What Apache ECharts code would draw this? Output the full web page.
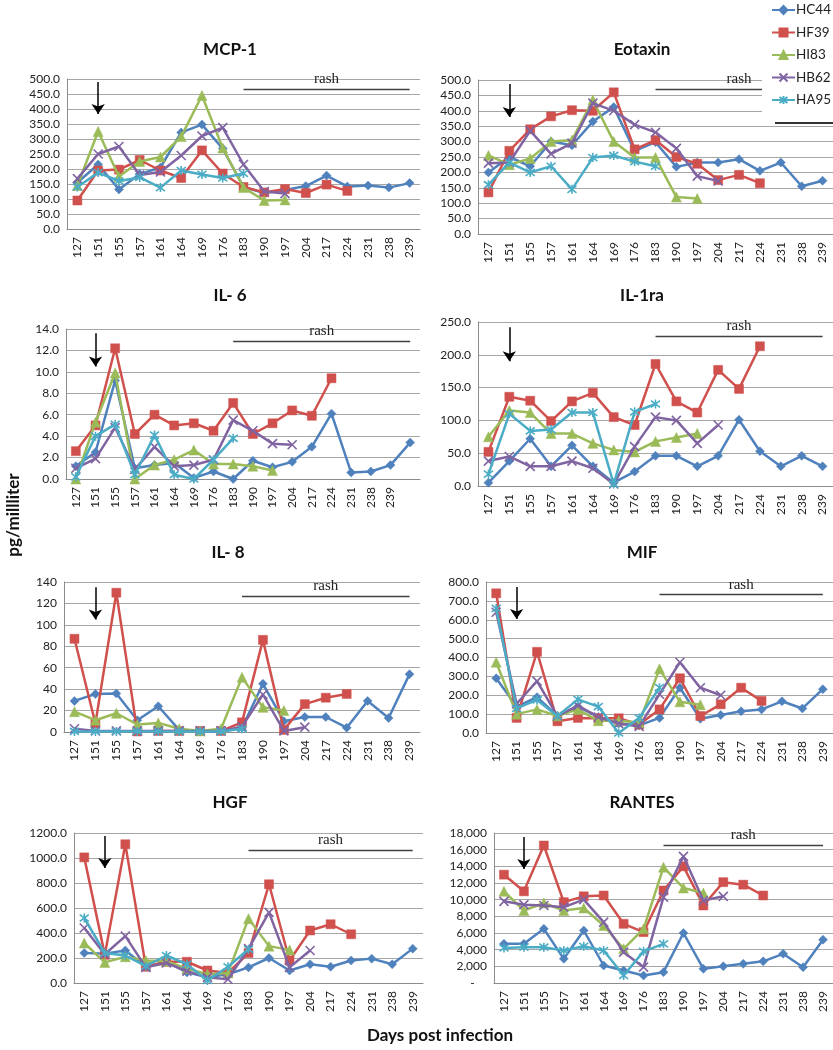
<!DOCTYPE html>
<html><head><meta charset="utf-8">
<script src="https://cdn.jsdelivr.net/npm/echarts@6/dist/echarts.min.js"></script>
<style>html,body{margin:0;padding:0;background:#fff}#c{width:833px;height:1050px}</style>
</head><body><div id="c"></div>
<script>
// ---------- DATA ----------
const categories = ['127','151','155','157','161','164','169','176','183','190','197','204','217','224','231','238','239'];
const categoriesIL6 = categories.concat(['']);
const seriesNames = ['HC44','HF39','HI83','HB62','HA95'];

const mcp1HC44 = [155,215,132,183,205,322,348,268,140,120,130,143,178,142,145,138,153];
const mcp1HF39 = [95,195,198,230,195,170,262,185,140,122,133,120,148,127];
const mcp1HI83 = [145,325,175,225,240,308,445,270,138,95,97];
const mcp1HB62 = [168,250,275,180,190,245,310,338,215,125,118];
const mcp1HA95 = [140,188,160,172,138,195,182,170,185];

const eotHC44 = [200,250,220,300,288,365,412,270,298,218,232,232,243,205,232,155,173];
const eotHF39 = [135,270,340,382,402,400,460,275,305,250,228,175,192,165];
const eotHI83 = [255,225,245,300,305,435,300,248,248,120,115];
const eotHB62 = [230,232,335,260,295,425,400,355,330,278,188,172];
const eotHA95 = [160,232,200,220,145,248,255,235,220];

const il6HC44 = [1.2,2.5,9.2,1.0,1.3,1.5,0.1,0.7,0.0,1.7,1.1,1.6,3.0,6.1,0.6,0.7,1.3,3.4];
const il6HF39 = [2.6,5.0,12.2,4.2,6.0,5.0,5.2,4.5,7.1,4.2,5.2,6.4,5.9,9.4];
const il6HI83 = [0.0,5.3,9.9,0.0,1.3,1.8,2.7,1.4,1.4,1.2,0.8];
const il6HB62 = [1.0,1.9,4.8,0.9,3.0,1.2,1.3,1.8,5.5,4.5,3.3,3.2];
const il6HA95 = [0.2,4.0,5.1,0.4,4.1,0.4,0.0,1.8,3.8];

const il1raHC44 = [5,38,72,30,62,30,5,22,46,46,30,46,101,53,30,46,30];
const il1raHF39 = [52,136,130,99,129,142,105,93,186,129,112,177,148,213];
const il1raHI83 = [75,115,112,80,80,65,55,52,68,74,80];
const il1raHB62 = [38,45,30,30,38,27,3,60,105,100,65,93];
const il1raHA95 = [18,110,84,86,112,112,3,113,125];

const il8HC44 = [29,35.5,36,11,24,2,0.5,0.5,4,45,10,14,14,4,29,13,54];
const il8HF39 = [87,8,130,0.5,1,1,1,1,9,86,2,26,32,35.5];
const il8HI83 = [19,11,17.5,7,8.5,3,1,3,51,23,20];
const il8HB62 = [3,1,1,1,1,1,1,1,5,35,1,4.5];
const il8HA95 = [0.5,0.5,0.5,0.5,0.5,0.5,0.5,0.5,3];

const mifHC44 = [290,140,190,90,140,85,50,40,80,240,75,95,115,125,168,130,232];
const mifHF39 = [740,80,430,62,80,78,78,45,125,290,90,152,240,170];
const mifHI83 = [375,100,125,90,125,65,65,55,340,165,150];
const mifHB62 = [640,155,275,90,145,85,50,35,205,375,240,200];
const mifHA95 = [660,130,175,90,178,140,0,80,240];

const hgfHC44 = [240,235,260,130,170,85,45,70,125,200,100,150,130,180,195,150,275];
const hgfHF39 = [1005,225,1110,130,170,170,100,80,240,790,180,420,470,390];
const hgfHI83 = [320,165,210,180,175,115,70,80,515,295,265];
const hgfHB62 = [440,230,375,125,160,95,45,30,275,565,125,260];
const hgfHA95 = [520,240,220,135,220,150,20,130,270];

const rantesHC44 = [4700,4700,6500,2900,6300,2100,1500,900,1300,6000,1700,2000,2300,2600,3500,1900,5200];
const rantesHF39 = [13000,11000,16500,9700,10400,10500,7100,6100,11100,14000,9300,12100,11800,10500];
const rantesHI83 = [11000,8700,9600,8700,9000,6900,4100,6500,13900,11400,10800];
const rantesHB62 = [9800,9400,9300,9100,10000,7300,3700,1900,10300,15200,9900,10400];
const rantesHA95 = [4200,4300,4300,3900,4400,3900,900,3800,4700];

// ---------- PANEL SETUP ----------
const panels = [
  {title:'MCP-1', cats:categories, data:[mcp1HC44,mcp1HF39,mcp1HI83,mcp1HB62,mcp1HA95], max:500, interval:50, fmt:'dec',
   grid:{left:67,top:79,width:353,height:150}, tx:230, ty:50, arrow:[490,383], rash:467, rashEnd:'239'},
  {title:'Eotaxin', cats:categories, data:[eotHC44,eotHF39,eotHI83,eotHB62,eotHA95], max:500, interval:50, fmt:'dec',
   grid:{left:478,top:80,width:355,height:154}, tx:642, ty:50, arrow:[487,380], rash:471, rashEnd:'239'},
  {title:'IL- 6', cats:categoriesIL6, data:[il6HC44,il6HF39,il6HI83,il6HB62,il6HA95], max:14, interval:2, fmt:'dec',
   grid:{left:66,top:329,width:354,height:150}, tx:230, ty:296, arrow:[13.6,10.5], rash:12.9, rashEnd:16.7},
  {title:'IL-1ra', cats:categories, data:[il1raHC44,il1raHF39,il1raHI83,il1raHB62,il1raHA95], max:250, interval:50, fmt:'dec',
   grid:{left:478,top:322,width:355,height:164}, tx:642, ty:296, arrow:[242,190], rash:229, rashEnd:'239'},
  {title:'IL- 8', cats:categories, data:[il8HC44,il8HF39,il8HI83,il8HB62,il8HA95], max:140, interval:20, fmt:'int',
   grid:{left:64,top:582,width:356,height:150}, tx:228, ty:553, arrow:[135,105], rash:127, rashEnd:'239'},
  {title:'MIF', cats:categories, data:[mifHC44,mifHF39,mifHI83,mifHB62,mifHA95], max:800, interval:100, fmt:'dec',
   grid:{left:486,top:582,width:347,height:151}, tx:642, ty:553, arrow:[774,604], rash:736, rashEnd:'239'},
  {title:'HGF', cats:categories, data:[hgfHC44,hgfHF39,hgfHI83,hgfHB62,hgfHA95], max:1200, interval:200, fmt:'dec',
   grid:{left:74,top:833,width:349,height:150}, tx:230, ty:803, arrow:[1176,920], rash:1064, rashEnd:'239'},
  {title:'RANTES', cats:categories, data:[rantesHC44,rantesHF39,rantesHI83,rantesHB62,rantesHA95], max:18000, interval:2000, fmt:'comma',
   grid:{left:494,top:833,width:339,height:150}, tx:642, ty:803, arrow:[17520,13680], rash:16560, rashEnd:'239'}
];

const colors = ['#4F81BD','#D0504D','#9BBB59','#8064A2','#4BACC6'];
const X_PATH = 'path://M0,0L10,10M10,0L0,10';
const AST_PATH = 'path://M0,0L10,10M10,0L0,10M5,-1.5L5,11.5';
const symbols = ['diamond','rect','triangle',X_PATH,AST_PATH];
const symSizes = [9,9,10,9,9];
const FONT = 'Lato, "Open Sans", sans-serif';

function fmtFn(kind){
  if(kind==='dec') return v => v.toFixed(1);
  if(kind==='int') return v => String(v);
  return v => v===0 ? '-    ' : v.toLocaleString('en-US');
}

const grids=[], xAxes=[], yAxes=[], series=[], graphics=[];
panels.forEach((p,i)=>{
  grids.push(p.grid);
  graphics.push({type:'text', z:51, silent:true, x:p.tx, y:p.ty,
    style:{text:p.title, fontFamily:FONT, fontWeight:'bold', fontSize:17, fill:'#111', align:'center', verticalAlign:'middle'}});
  xAxes.push({type:'category', gridIndex:i, data:p.cats, boundaryGap:true,
    axisLine:{show:true, lineStyle:{color:'#8c8c8c', width:1}},
    axisTick:{show:false},
    axisLabel:{rotate:90, interval:0, fontFamily:FONT, fontSize:12, color:'#222', margin:8}});
  yAxes.push({type:'value', gridIndex:i, min:0, max:p.max, interval:p.interval,
    axisLine:{show:true, lineStyle:{color:'#8c8c8c', width:1}},
    axisTick:{show:false},
    splitLine:{show:true, lineStyle:{color:'#a6a6a6', width:1.2}},
    axisLabel:{formatter:fmtFn(p.fmt), fontFamily:FONT, fontSize:12, color:'#222', margin:7}});
  seriesNames.forEach((nm,k)=>{
    const s = {name:nm, type:'line', xAxisIndex:i, yAxisIndex:i, data:p.data[k],
      symbol:symbols[k], symbolSize:symSizes[k], showAllSymbol:true,
      lineStyle:{color:colors[k], width:2.5},
      itemStyle:{color:colors[k], borderColor:colors[k], borderWidth:(k>=3?1.6:0.5)},
      z:2+k*0.01};
    if(k===0){
      s.markLine = {silent:true, animation:false, symbolSize:10,
        data:[
          [{coord:['151', p.arrow[0]], symbol:'none'},
           {coord:['151', p.arrow[1]], symbol:'arrow'}],
          [{coord:['183', p.rash], symbol:'none',
            lineStyle:{color:'#404040', width:1.4, type:'solid'},
            label:{show:true, position:'insideMiddleTop', formatter:'rash',
              fontFamily:'"Liberation Serif", serif', fontSize:15, color:'#222', distance:2}},
           {coord:[p.rashEnd, p.rash], symbol:'none'}]
        ],
        lineStyle:{color:'#000', width:1.5, type:'solid'},
        label:{show:false}
      };
    }
    series.push(s);
  });
});

graphics.push(
  {type:'rect', z:50, silent:true, shape:{x:762,y:0,width:71,height:122}, style:{fill:'#fff'}},
  {type:'line', z:51, silent:true, shape:{x1:775,y1:123,x2:833,y2:123}, style:{stroke:'#333',lineWidth:2}},
  {type:'text', z:51, silent:true, x:14, y:515, rotation:Math.PI/2,
    style:{text:'pg/millliter', fontFamily:FONT, fontWeight:'bold', fontSize:17, fill:'#111', align:'center', verticalAlign:'middle'}},
  {type:'text', z:51, silent:true, x:440, y:1036,
    style:{text:'Days post infection', fontFamily:FONT, fontWeight:'bold', fontSize:17, fill:'#111', align:'center', verticalAlign:'middle'}}
);

const option = {
  animation:false,
  backgroundColor:'#fff',
  color:colors,
  grid:grids, xAxis:xAxes, yAxis:yAxes, series:series,
  legend:{data:seriesNames, orient:'vertical', left:771, top:3, z:100,
    itemWidth:23, itemHeight:10, itemGap:8.5, padding:0,
    textStyle:{fontFamily:FONT, fontSize:13.5, color:'#222', lineHeight:14, padding:[0,0,0,-4]}},
  graphic:graphics
};
const chart = echarts.init(document.getElementById('c'), null, {renderer:'canvas'});
chart.setOption(option);
</script></body></html>
